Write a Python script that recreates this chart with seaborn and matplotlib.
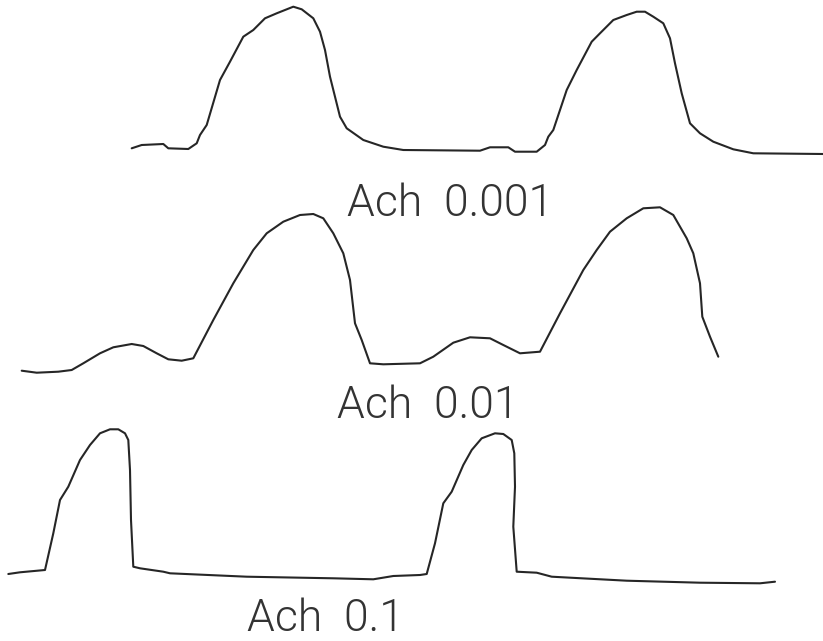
import matplotlib
matplotlib.use("Agg")
import matplotlib.pyplot as plt
import seaborn as sns
import pandas as pd

# Contraction traces recorded at three acetylcholine concentrations.
# Time runs left to right; the vertical value is the pen position on the
# chart paper (smaller = higher deflection).
t_001 = [131.7, 141.7, 163.3, 168.3, 188.3, 196.7, 200.0, 206.7, 220.0, 230.0,
         243.3, 253.3, 265.0, 276.7, 293.3, 301.7, 313.3, 320.0, 325.0, 330.0,
         340.0, 346.7, 363.3, 383.3, 403.3, 480.0, 490.0, 508.3, 515.0, 536.7,
         545.0, 548.3, 553.3, 566.7, 576.7, 591.7, 600.0, 613.3, 626.7, 636.7,
         645.0, 653.3, 663.3, 670.0, 675.0, 681.7, 690.0, 700.0, 713.3, 733.3,
         753.3, 823.0]
v_001 = [148.3, 145.0, 144.0, 148.3, 149.0, 143.3, 135.0, 125.0, 80.0, 61.7,
         36.7, 30.0, 18.3, 13.3, 6.7, 9.3, 18.3, 31.7, 50.0, 76.7,
         116.7, 128.3, 140.0, 146.7, 150.0, 150.7, 147.3, 147.3, 151.7, 151.7,
         145.0, 136.7, 130.0, 90.0, 70.0, 41.7, 33.3, 20.0, 15.0, 11.7,
         11.7, 16.7, 23.3, 38.3, 63.3, 93.3, 123.3, 133.3, 141.7, 149.3,
         153.3, 154.0]

t_01 = [21.7, 36.7, 58.3, 71.7, 83.3, 100.0, 113.3, 131.7, 143.3, 156.7,
        168.3, 181.7, 193.3, 213.3, 233.3, 253.3, 266.7, 283.3, 300.0, 313.3,
        323.3, 333.3, 343.3, 350.0, 355.0, 361.7, 370.0, 383.3, 420.0, 433.3,
        453.3, 470.0, 490.0, 503.3, 520.0, 540.0, 560.0, 583.3, 596.7, 610.0,
        626.7, 643.3, 660.0, 673.3, 686.7, 693.3, 700.0, 702.3, 710.0, 718.3]
v_01 = [370.7, 372.7, 371.7, 370.0, 363.3, 353.3, 347.3, 344.0, 346.0, 353.3,
        359.3, 360.7, 358.3, 320.0, 283.3, 250.0, 233.3, 221.7, 215.0, 214.0,
        218.3, 233.3, 253.3, 280.0, 323.3, 340.0, 363.3, 364.3, 363.3, 356.7,
        342.7, 337.3, 338.3, 345.0, 353.3, 351.7, 313.3, 270.0, 250.0, 231.7,
        218.3, 208.3, 207.3, 215.0, 238.3, 253.3, 283.3, 316.7, 336.7, 356.7]

t_1 = [8.3, 20.0, 45.0, 53.3, 60.0, 68.3, 80.0, 90.0, 100.0, 110.0,
       118.3, 125.0, 128.3, 130.0, 131.0, 133.3, 140.0, 163.3, 170.0, 246.7,
       333.3, 373.3, 393.3, 420.0, 426.7, 435.0, 443.3, 451.7, 463.3, 471.7,
       481.7, 495.0, 503.3, 511.7, 514.3, 515.0, 513.3, 516.7, 536.7, 551.7,
       626.7, 700.0, 760.0, 775.0]
v_1 = [574.0, 572.3, 570.0, 533.3, 500.0, 486.7, 460.0, 445.0, 433.3, 429.3,
       429.3, 433.3, 440.0, 470.0, 520.0, 566.7, 568.3, 571.7, 573.3, 576.7,
       578.3, 579.3, 576.0, 575.0, 574.0, 543.3, 503.3, 491.7, 465.0, 450.0,
       438.3, 433.3, 434.0, 440.0, 453.3, 486.7, 526.7, 571.7, 572.7, 576.7,
       580.7, 582.7, 583.3, 581.7]

labels = ["Ach  0.001", "Ach  0.01", "Ach  0.1"]

traces = [
    pd.DataFrame({"t": t_001, "v": v_001}),
    pd.DataFrame({"t": t_01, "v": v_01}),
    pd.DataFrame({"t": t_1, "v": v_1}),
]

sns.set_theme(style="white")
plt.rcParams["font.family"] = ["Roboto", "DejaVu Sans"]

fig = plt.figure(figsize=(8.23, 6.41), dpi=100)
ax = fig.add_axes([0, 0, 1, 1])

ink = "#262626"
for df in traces:
    sns.lineplot(data=df, x="t", y="v", sort=False, estimator=None,
                 color=ink, linewidth=1.5, ax=ax)

# caption under each trace, in a light face
label_pos = [(347, 216), (337, 418), (247, 631)]
for text, (lx, ly) in zip(labels, label_pos):
    ax.text(lx, ly, text, ha="left", va="baseline", fontsize=32,
            fontweight=300, color="#333333")

ax.set_xlim(0, 823)
ax.set_ylim(641, 0)
ax.set_axis_off()
ax.set_xlabel("")
ax.set_ylabel("")

fig.savefig("out.png", dpi=100, facecolor="white")
